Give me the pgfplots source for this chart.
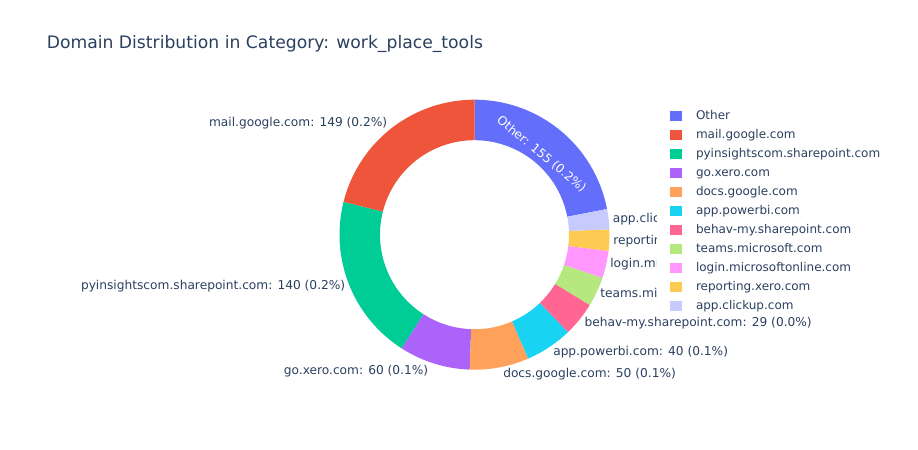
\documentclass[border=0pt]{standalone}
\usepackage{fontspec}
\setmainfont{DejaVu Sans}
\usepackage{pgfplots}
\usepackage{pgfplotstable}
\pgfplotsset{compat=1.18}
\definecolor{txt}{HTML}{2A3F5F}
\definecolor{c0}{HTML}{636EFA}
\definecolor{c1}{HTML}{EF553B}
\definecolor{c2}{HTML}{00CC96}
\definecolor{c3}{HTML}{AB63FA}
\definecolor{c4}{HTML}{FFA15A}
\definecolor{c5}{HTML}{19D3F3}
\definecolor{c6}{HTML}{FF6692}
\definecolor{c7}{HTML}{B6E880}
\definecolor{c8}{HTML}{FF97FF}
\definecolor{c9}{HTML}{FECB52}
\definecolor{c10}{HTML}{C6CAFD}

\pgfplotstableread[col sep=comma]{
name,value
Other,155
mail.google.com,149
pyinsightscom.sharepoint.com,140
go.xero.com,60
docs.google.com,50
app.powerbi.com,40
behav-my.sharepoint.com,29
teams.microsoft.com,25
login.microsoftonline.com,23
reporting.xero.com,18
app.clickup.com,17
}\domains

% total and cumulative angles (counterclockwise, first slice ends at 12 o'clock)
\def\total{0}
\pgfplotsforeachungrouped \i in {0,...,10}{%
  \pgfplotstablegetelem{\i}{value}\of\domains
  \pgfmathsetmacro\total{\total+\pgfplotsretval}%
}
\pgfplotstablegetelem{0}{value}\of\domains
\edef\vfirst{\pgfplotsretval}
\pgfmathsetmacro\degper{360/\total}
\def\cum{0}
\pgfplotsforeachungrouped \i in {0,...,10}{%
  \pgfplotstablegetelem{\i}{value}\of\domains
  \pgfmathsetmacro\s{90+\degper*(\cum-\vfirst)}%
  \pgfmathsetmacro\cum{\cum+\pgfplotsretval}%
  \pgfmathsetmacro\e{90+\degper*(\cum-\vfirst)}%
  \expandafter\let\csname sa\i\endcsname\s
  \expandafter\let\csname ea\i\endcsname\e
}

\def\cx{474.5}
\def\cy{215.3}
\def\rout{135}
\def\rin{94.5}

\newcommand\slice[2]{%
  \edef\sliceA{\csname sa#1\endcsname}%
  \edef\sliceB{\csname ea#1\endcsname}%
  \addplot[fill=#2, draw=none, samples at={0,...,101}, variable=\t]
    ({\cx+((\t<=50)?\rout:\rin)*cos((\t<=50)?(\sliceA+\t/50*(\sliceB-\sliceA)):(\sliceB-(\t-51)/50*(\sliceB-\sliceA)))},
     {\cy+((\t<=50)?\rout:\rin)*sin((\t<=50)?(\sliceA+\t/50*(\sliceB-\sliceA)):(\sliceB-(\t-51)/50*(\sliceB-\sliceA)))});
}

\tikzset{lbl/.style={font=\fontsize{9.15}{11}\selectfont, text=txt, inner sep=0pt,
    text height=6.7pt, text depth=2.2pt}}

\begin{document}
\begin{tikzpicture}
\begin{axis}[
  hide axis, scale only axis,
  width=688.5pt, height=337.5pt,
  xmin=0, xmax=918, ymin=0, ymax=450,
  clip=false,
  legend cell align=left,
  legend image code/.code={\fill[#1] (0pt,-3.6pt) rectangle (9pt,3.9pt);},
  legend style={draw=none, fill=none, at={(axis cs:670,340.3)}, anchor=north west,
    inner sep=0pt, outer sep=0pt, font=\fontsize{9}{11}\selectfont, text=txt,
    nodes={inner sep=0pt, text height=7pt, text depth=2.5pt, font=\fontsize{9}{11}\selectfont, text=txt},
    row sep=4.75pt, column sep=10.5pt},
]
\path (axis cs:0,0) rectangle (axis cs:918,450);
\slice{0}{c0}\addlegendentry{Other}
\slice{1}{c1}\addlegendentry{mail.google.com}
\slice{2}{c2}\addlegendentry{pyinsightscom.sharepoint.com}
\slice{3}{c3}\addlegendentry{go.xero.com}
\slice{4}{c4}\addlegendentry{docs.google.com}
\slice{5}{c5}\addlegendentry{app.powerbi.com}
\slice{6}{c6}\addlegendentry{behav-my.sharepoint.com}
\slice{7}{c7}\addlegendentry{teams.microsoft.com}
\slice{8}{c8}\addlegendentry{login.microsoftonline.com}
\slice{9}{c9}\addlegendentry{reporting.xero.com}
\slice{10}{c10}\addlegendentry{app.clickup.com}

\node[lbl, anchor=west, font=\fontsize{12.9}{16}\selectfont, text height=9.5pt, text depth=3.2pt] at (axis cs:46.5,406) {Domain Distribution in Category: work\_place\_tools};

\node[lbl, rotate=-39.5, text=white] at (axis cs:541,295) {Other: 155 (0.2\%)};

\node[lbl, anchor=east] at (axis cs:387.5,326) {mail.google.com: 149 (0.2\%)};
\node[lbl, anchor=east] at (axis cs:345.5,163.5) {pyinsightscom.sharepoint.com: 140 (0.2\%)};
\node[lbl, anchor=east] at (axis cs:428.5,78.5) {go.xero.com: 60 (0.1\%)};
\node[lbl, anchor=west] at (axis cs:503,75) {docs.google.com: 50 (0.1\%)};
\node[lbl, anchor=west] at (axis cs:553,97) {app.powerbi.com: 40 (0.1\%)};
\node[lbl, anchor=east] at (axis cs:812,126) {behav-my.sharepoint.com: 29 (0.0\%)};
\begin{scope}
\clip (axis cs:0,0) rectangle (axis cs:656,450);
\node[lbl, anchor=west] at (axis cs:612.5,230) {app.clickup.com: 17 (0.0\%)};
\node[lbl, anchor=west] at (axis cs:613,208.5) {reporting.xero.com: 18 (0.0\%)};
\node[lbl, anchor=west] at (axis cs:610,185) {login.microsoftonline.com: 23 (0.0\%)};
\node[lbl, anchor=west] at (axis cs:600,155.5) {teams.microsoft.com: 25 (0.0\%)};
\end{scope}
\end{axis}
\end{tikzpicture}
\end{document}
